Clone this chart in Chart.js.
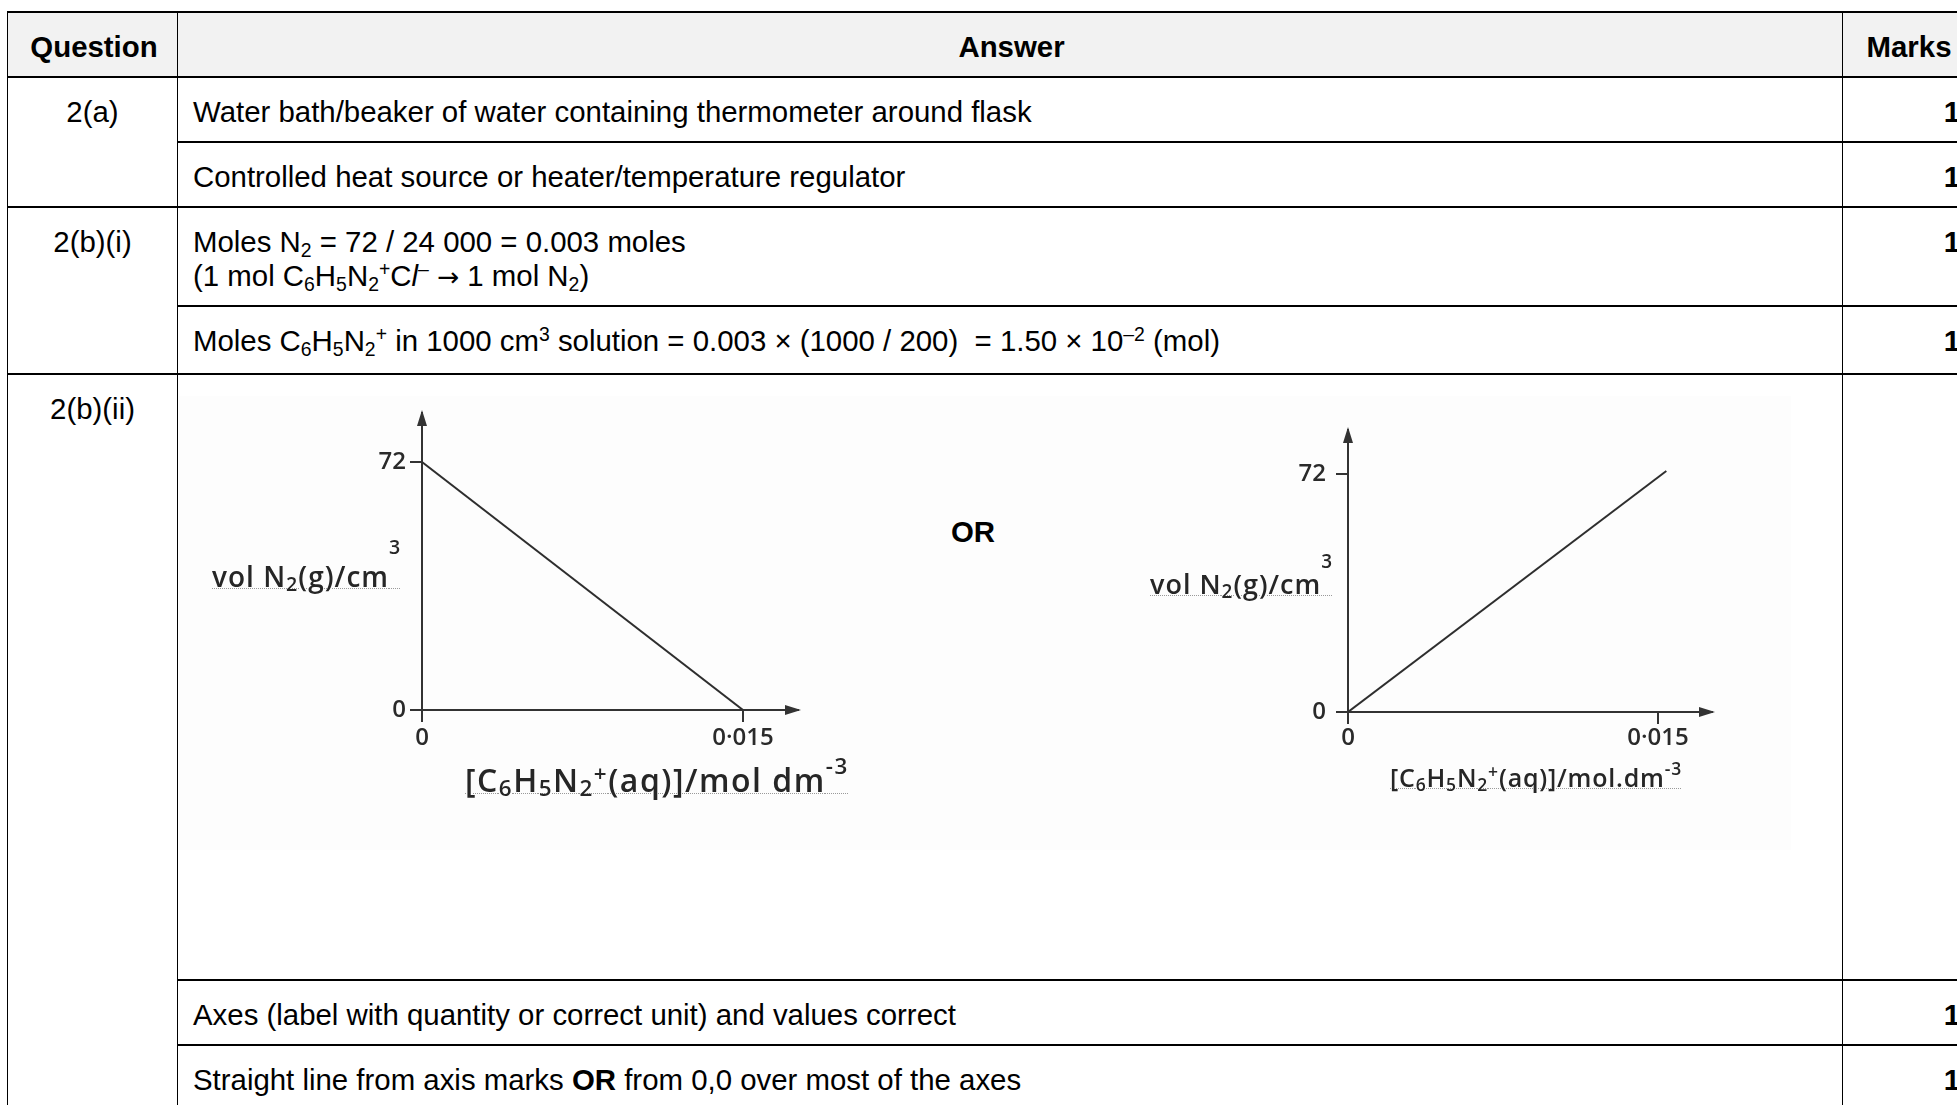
<!DOCTYPE html>
<html>
<head>
<meta charset="utf-8">
<script src="https://cdn.jsdelivr.net/npm/chart.js@4.4.0/dist/chart.umd.min.js"></script>
<style>
  body { margin: 0; width: 1957px; height: 1105px; overflow: hidden; position: relative; background: #fff;
         font-family: "Liberation Sans", Arial, sans-serif; color: #000; }
  table { position: absolute; left: 7px; top: 11px; border-collapse: collapse; table-layout: fixed;
          width: 1965px; font-size: 29.4px; line-height: 34px; }
  td, th { border-top: 2px solid #000; border-bottom: 2px solid #000; border-left: 1px solid #000;
           border-right: 1px solid #000; padding: 17px 12px 0 15px; vertical-align: top; text-align: left; }
  th { background: #f2f2f2; font-weight: bold; text-align: center; }
  td.q { text-align: center; padding-left: 0; padding-right: 0; }
  td.m { text-align: right; font-weight: bold; padding-right: 12px; }
  sub { font-size: 0.66em; vertical-align: -0.28em; line-height: 0; }
  sup { font-size: 0.66em; vertical-align: 0.5em; line-height: 0; }
  .arrow { font-family: "DejaVu Sans", sans-serif; font-size: 0.9em; }
  .scan { position: absolute; left: 179px; top: 396px; width: 1612px; height: 454px; background: #fdfdfd; }
  .chart { position: absolute; }
  .hand { position: absolute; font-family: "Open Sans", sans-serif; font-weight: 600; color: #262626; white-space: nowrap; line-height: 1;
          text-decoration: underline dotted #9a9a9a; text-decoration-thickness: 1px; text-underline-offset: 1px; }
  .hand sub { font-size: 0.7em; vertical-align: -0.2em; }
  .hand sup { font-size: 0.7em; }
  .or { position: absolute; left: 951px; top: 515px; font-weight: bold; font-size: 29.4px; line-height: 34px; }
</style>
</head>
<body>
<table>
  <colgroup><col style="width:170px"><col style="width:1665px"><col style="width:130px"></colgroup>
  <tr style="height:65px"><th>Question</th><th>Answer</th><th>Marks</th></tr>
  <tr style="height:65px"><td class="q" rowspan="2">2(a)</td><td>Water bath/beaker of water containing thermometer around flask</td><td class="m">1</td></tr>
  <tr style="height:65px"><td>Controlled heat source or heater/temperature regulator</td><td class="m">1</td></tr>
  <tr style="height:99px"><td class="q" rowspan="2">2(b)(i)</td><td>Moles N<sub>2</sub> = 72 / 24 000 = 0.003 moles<br>(1 mol C<sub>6</sub>H<sub>5</sub>N<sub>2</sub><sup>+</sup>C<i>l</i><sup>–</sup> <span class="arrow">→</span> 1 mol N<sub>2</sub>)</td><td class="m">1</td></tr>
  <tr style="height:68px"><td>Moles C<sub>6</sub>H<sub>5</sub>N<sub>2</sub><sup>+</sup> in 1000 cm<sup>3</sup> solution = 0.003 × (1000 / 200) &nbsp;= 1.50 × 10<sup>–2</sup> (mol)</td><td class="m">1</td></tr>
  <tr style="height:606px"><td class="q" rowspan="3">2(b)(ii)</td><td></td><td class="m"></td></tr>
  <tr style="height:65px"><td>Axes (label with quantity or correct unit) and values correct</td><td class="m">1</td></tr>
  <tr style="height:65px"><td>Straight line from axis marks <b>OR</b> from 0,0 over most of the axes</td><td class="m">1</td></tr>
</table>

<div class="scan"></div>
<div class="chart" style="left:340px; top:380px;"><canvas id="decay" width="500" height="400"></canvas></div>
<div class="chart" style="left:1260px; top:400px;"><canvas id="rise" width="500" height="400"></canvas></div>

<div class="hand" style="left:212px; top:547px; font-size:28px; letter-spacing:1px;">vol N<sub>2</sub>(g)/cm<sup style="vertical-align:33px">3</sup></div>
<div class="hand" style="left:465px; top:764px; font-size:32px; letter-spacing:1.5px;">[C<sub>6</sub>H<sub>5</sub>N<sub>2</sub><sup>+</sup>(aq)]/mol dm<sup style="vertical-align:18px">-3</sup></div>
<div class="hand" style="left:1150px; top:561px; font-size:27px; letter-spacing:1px;">vol N<sub>2</sub>(g)/cm<sup style="vertical-align:26px">3</sup></div>
<div class="hand" style="left:1390px; top:765px; font-size:25px; letter-spacing:0.8px;">[C<sub>6</sub>H<sub>5</sub>N<sub>2</sub><sup>+</sup>(aq)]/mol.dm<sup style="vertical-align:12px">-3</sup></div>
<div class="or">OR</div>

<script>
// first sketch: volume falls to zero
const decayConc = [0, 0.015];
const decayVol = [72, 0];
// second sketch: volume rises from the origin
const riseConc = [0, 0.0154];
const riseVol = [0, 72.9];

const volTicks = [0, 72];
const volTickLabels = ['0', '72'];
const concTicks = [0, 0.015];
const concTickLabels = ['0', '0·015'];

const ink = '#333';

const arrowHeads = {
  id: 'arrowHeads',
  afterDraw(chart) {
    const { ctx, chartArea: a } = chart;
    ctx.save();
    ctx.fillStyle = ink;
    ctx.beginPath();
    ctx.moveTo(a.left, a.top - 3);
    ctx.lineTo(a.left - 5, a.top + 13);
    ctx.lineTo(a.left + 5, a.top + 13);
    ctx.closePath();
    ctx.fill();
    ctx.beginPath();
    ctx.moveTo(a.right + 3, a.bottom);
    ctx.lineTo(a.right - 13, a.bottom - 5);
    ctx.lineTo(a.right - 13, a.bottom + 5);
    ctx.closePath();
    ctx.fill();
    ctx.restore();
  }
};

function sketch(id, conc, vol, xMax, yMax, box) {
  const tickFont = { family: 'Open Sans', size: 24, weight: '600' };
  return new Chart(document.getElementById(id), {
    type: 'scatter',
    data: {
      datasets: [{
        data: conc.map((c, i) => ({ x: c, y: vol[i] })),
        showLine: true,
        borderColor: '#2e2e2e',
        borderWidth: 2,
        pointRadius: 0,
        tension: 0
      }]
    },
    options: {
      responsive: false,
      animation: false,
      events: [],
      layout: { padding: { left: 0, top: box.top, right: box.right, bottom: box.bottom } },
      plugins: { legend: { display: false }, tooltip: { enabled: false } },
      scales: {
        x: {
          type: 'linear', min: 0, max: xMax,
          afterFit: s => { s.height = box.xh; },
          afterBuildTicks: s => { s.ticks = concTicks.map(v => ({ value: v })); },
          ticks: { callback: (v, i) => concTickLabels[i], autoSkip: false, maxRotation: 0,
                   padding: box.xpad, color: '#2a2a2a', font: tickFont },
          grid: { drawOnChartArea: false, drawTicks: true, tickLength: 12, color: ink, lineWidth: 2 },
          border: { display: true, color: ink, width: 2 }
        },
        y: {
          type: 'linear', min: 0, max: yMax,
          afterFit: s => { s.width = box.yw; },
          afterBuildTicks: s => { s.ticks = volTicks.map(v => ({ value: v })); },
          ticks: { callback: (v, i) => volTickLabels[i], autoSkip: false,
                   padding: box.ypad, color: '#2a2a2a', font: tickFont },
          grid: { drawOnChartArea: false, drawTicks: true, tickLength: 12, color: ink, lineWidth: 2 },
          border: { display: true, color: ink, width: 2 }
        }
      }
    },
    plugins: [arrowHeads]
  });
}

sketch('decay', decayConc, decayVol, 0.01757, 86.2,
  { top: 33, right: 42, bottom: 20, xh: 50, yw: 82, xpad: 2, ypad: 4 });
sketch('rise', riseConc, riseVol, 0.01761, 85.3,
  { top: 30, right: 48, bottom: 38, xh: 50, yw: 88, xpad: 0, ypad: 10 });
</script>
</body>
</html>
